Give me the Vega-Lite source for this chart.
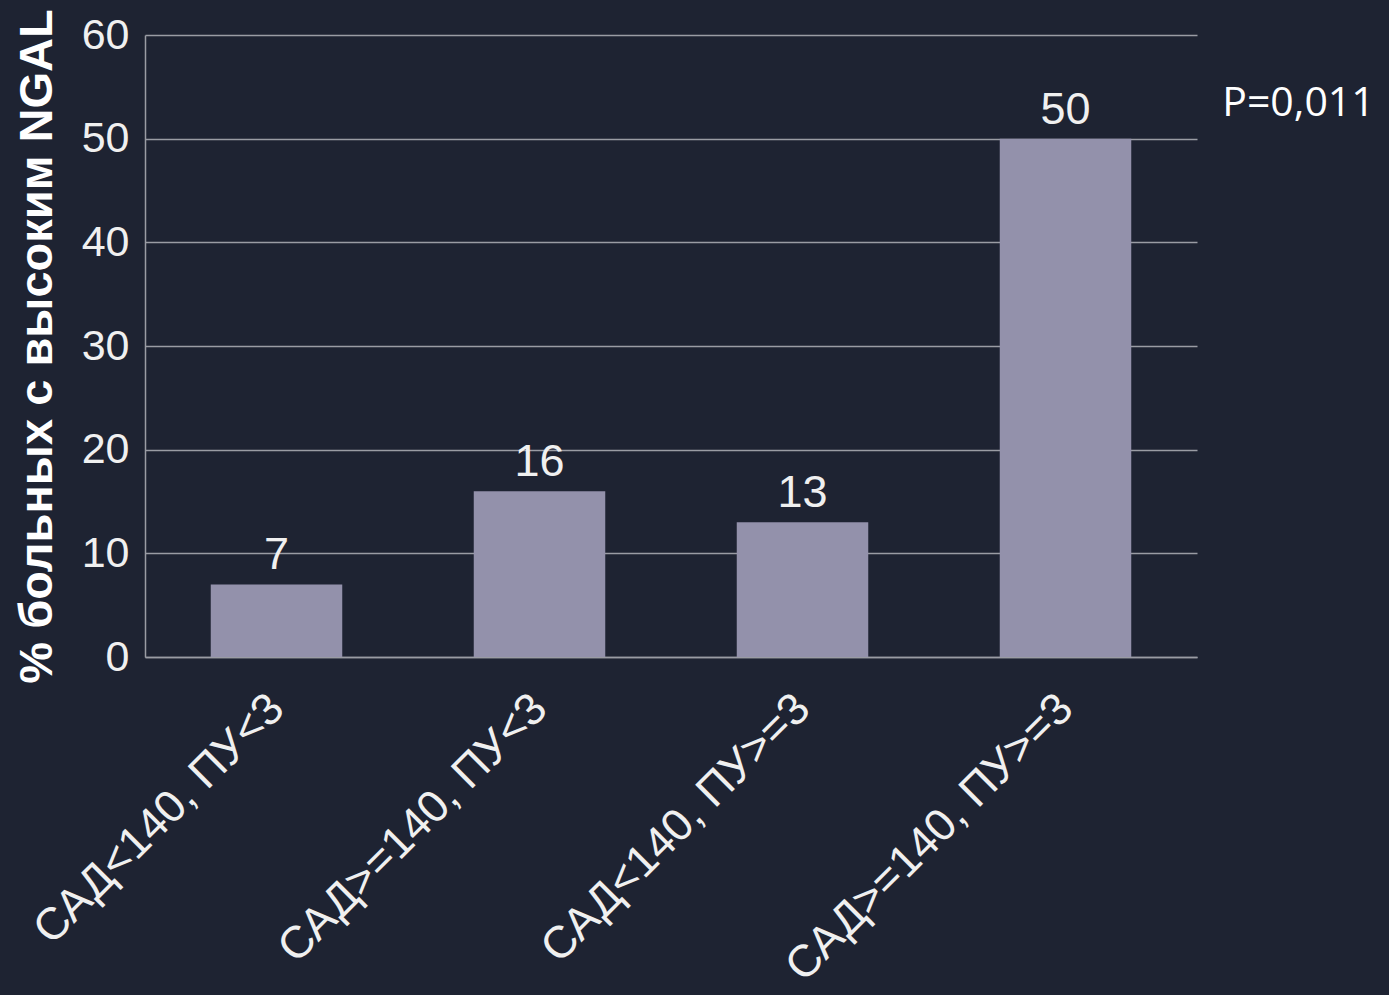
{
  "$schema": "https://vega.github.io/schema/vega-lite/v6.json",
  "autosize": {"type": "none"},
  "width": 1052,
  "height": 622,
  "padding": {"left": 145, "top": 35, "right": 192, "bottom": 338},
  "background": "#1e2332",
  "config": {"view": {"stroke": null}, "font": "Liberation Sans"},
  "data": {"values": [
    {"group": "САД<140, ПУ<3", "pct": 7},
    {"group": "САД>=140, ПУ<3", "pct": 16},
    {"group": "САД<140, ПУ>=3", "pct": 13},
    {"group": "САД>=140, ПУ>=3", "pct": 50}
  ]},
  "layer": [
    {
      "mark": {"type": "bar", "color": "#9391ab"},
      "encoding": {
        "x": {"field": "group", "type": "nominal", "sort": null,
          "scale": {"paddingInner": 0.5, "paddingOuter": 0.25},
          "axis": {"title": null, "labelAngle": -45, "labelAlign": "right", "labelBaseline": "middle", "labelFontSize": 45, "labelColor": "#f0f0f0", "labelPadding": 44, "labelLimit": 0, "ticks": false, "domainColor": "#9a9ca4", "domainWidth": 1.5, "labelFont": "Liberation Sans"}},
        "y": {"field": "pct", "type": "quantitative",
          "scale": {"domain": [0, 60]},
          "axis": {"values": [0, 10, 20, 30, 40, 50, 60], "title": "% больных с высоким NGAL", "titleFontSize": 47, "titleFontWeight": "bold", "titleColor": "#ffffff", "titleFont": "Liberation Sans", "titlePadding": 20, "labelFontSize": 43, "labelColor": "#f0f0f0", "labelPadding": 16, "ticks": false, "domainColor": "#9a9ca4", "domainWidth": 1.5, "gridColor": "#9a9ca4", "gridWidth": 1.5, "labelFont": "Liberation Sans"}}
      }
    },
    {
      "mark": {"type": "text", "baseline": "bottom", "dy": -6, "fontSize": 45, "color": "#f0f0f0", "font": "Liberation Sans"},
      "encoding": {
        "x": {"field": "group", "type": "nominal", "sort": null},
        "y": {"field": "pct", "type": "quantitative"},
        "text": {"field": "pct", "type": "quantitative"}
      }
    },
    {
      "data": {"values": [{"label": "P=0,011", "group": "САД>=140, ПУ>=3", "pos": 53.3}]},
      "mark": {"type": "text", "baseline": "middle", "align": "center", "dx": 233, "fontSize": 41, "color": "#ffffff", "font": "Open Sans"},
      "encoding": {
        "x": {"field": "group", "type": "nominal", "sort": null},
        "y": {"field": "pos", "type": "quantitative"},
        "text": {"field": "label", "type": "nominal"}
      }
    }
  ]
}
